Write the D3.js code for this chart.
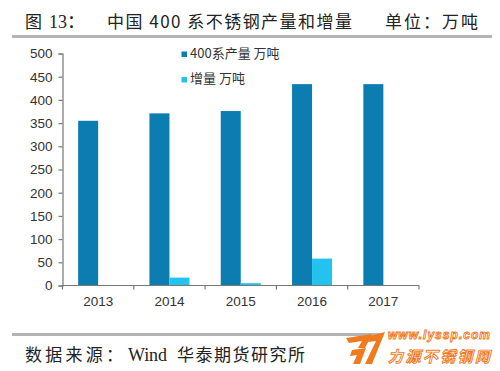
<!DOCTYPE html>
<html>
<head>
<meta charset="utf-8">
<script src="https://cdn.jsdelivr.net/npm/d3@7"></script>
<style>
  body { margin: 0; background: #fff; }
  svg { display: block; }
</style>
</head>
<body>
<svg id="chart"></svg>
<script>
// data
var years = ['2013', '2014', '2015', '2016', '2017'];
var output = [355, 371, 376, 434, 434];   // 400系产量 万吨
var increase = [null, 17, 5, 58, 0];      // 增量 万吨
var yTicks = [0, 50, 100, 150, 200, 250, 300, 350, 400, 450, 500];
var seriesNames = ['400系产量 万吨', '增量 万吨'];
var colors = ['#0c7db1', '#23c2ef'];

var width = 500, height = 371;
var svg = d3.select('#chart').attr('width', width).attr('height', height);

// small helper for the header/footer texts
function label(x0, y0, txt, len, family, size) {
  var t = svg.append('text').attr('x', x0).attr('y', y0)
    .style('font-family', family)
    .style('font-size', size + 'px').attr('fill', '#222')
    .text(txt);
  if (len) t.attr('textLength', len).attr('lengthAdjust', 'spacing');
  return t;
}

// header
label(25, 28, '图', null, '"Noto Sans CJK SC", serif', 17);
label(49, 28, '13：', null, '"Liberation Serif", "Noto Sans CJK SC", serif', 18);
label(107, 28, '中国 400 系不锈钢产量和增量', 245, '"Noto Sans CJK SC", serif', 17);
label(385, 28, '单位：万吨', 93, '"Noto Sans CJK SC", serif', 17);
svg.append('line').attr('x1', 12).attr('x2', 492).attr('y1', 36.5).attr('y2', 36.5)
  .attr('stroke', '#b4b4b4').attr('stroke-width', 3);

// scales
var x = d3.scaleBand().domain(years).range([62.5, 419]).padding(0);
var inner = d3.scaleBand().domain([0, 1])
  .range([x.bandwidth() / 2 - 20, x.bandwidth() / 2 + 20]);
var y = d3.scaleLinear().domain([0, 500]).range([285.5, 53.5]);

// bars
var g = svg.append('g');
[output, increase].forEach(function(vals, s) {
  g.selectAll('rect.s' + s)
    .data(vals.map(function(v, i) { return { year: years[i], v: v }; })
      .filter(function(d) { return d.v !== null && d.v > 0; }))
    .enter().append('rect')
    .attr('class', 's' + s)
    .attr('x', function(d) { return x(d.year) + inner(s); })
    .attr('width', inner.bandwidth())
    .attr('y', function(d) { return y(d.v); })
    .attr('height', function(d) { return y(0) - y(d.v); })
    .attr('fill', colors[s]);
});

// y axis
var yAxis = svg.append('g')
  .attr('transform', 'translate(62.5,0)')
  .call(d3.axisLeft(y).tickValues(yTicks).tickSize(4).tickPadding(6));
yAxis.selectAll('text')
  .style('font-family', '"Liberation Sans", Arial, sans-serif')
  .style('font-size', '13.5px').attr('fill', '#333');
yAxis.select('.domain').attr('stroke', '#777').attr('stroke-width', 1.2);
yAxis.selectAll('.tick line').attr('stroke', '#777').attr('stroke-width', 1.2);

// x axis, ticks on category boundaries
var xAxis = svg.append('g').attr('transform', 'translate(0,' + y(0) + ')');
xAxis.append('line').attr('x1', x.range()[0]).attr('x2', x.range()[1])
  .attr('stroke', '#777').attr('stroke-width', 1.2);
xAxis.selectAll('line.tk')
  .data(years.concat(['end']))
  .enter().append('line').attr('class', 'tk')
  .attr('x1', function(d) { return d === 'end' ? x.range()[1] : x(d); })
  .attr('x2', function(d) { return d === 'end' ? x.range()[1] : x(d); })
  .attr('y1', 0).attr('y2', 4)
  .attr('stroke', '#777').attr('stroke-width', 1.2);
xAxis.selectAll('text')
  .data(years).enter().append('text')
  .attr('x', function(d) { return x(d) + x.bandwidth() / 2; })
  .attr('y', 20)
  .attr('text-anchor', 'middle')
  .style('font-family', '"Liberation Sans", Arial, sans-serif')
  .style('font-size', '13.5px').attr('fill', '#333')
  .text(function(d) { return d; });

// legend
var legend = svg.append('g');
seriesNames.forEach(function(name, i) {
  var ly = 51.5 + i * 25.5;
  legend.append('rect').attr('x', 181.5).attr('y', ly).attr('width', 5.5).attr('height', 5.5)
    .attr('fill', colors[i]);
  legend.append('text').attr('x', 190).attr('y', ly + 6)
    .style('font-family', '"Noto Sans CJK SC", sans-serif')
    .style('font-size', '13px').attr('fill', '#333')
    .text(name);
});

// footer
svg.append('line').attr('x1', 12).attr('x2', 380).attr('y1', 334.5).attr('y2', 334.5)
  .attr('stroke', '#b4b4b4').attr('stroke-width', 3);
label(25, 361, '数据来源：', 98, '"Noto Sans CJK SC", serif', 17);
label(128, 361, 'Wind', 39, '"Liberation Serif", serif', 18);
label(177, 361, '华泰期货研究所', 128, '"Noto Sans CJK SC", serif', 17);

// watermark logo
var logo = svg.append('g');
logo.append('path')
  .attr('d', 'M346,338 L372,334 L365,348 L358,348 L362,341 L349,343 Z M352,350 L366,348 L360,364 L353,364 L357,355 L350,356 Z')
  .attr('fill', '#f07a1e');
logo.append('path')
  .attr('d', 'M370,336 L385,332 L372,364 L365,364 L376,341 L368,342 Z')
  .attr('fill', '#f07a1e');
logo.append('text').attr('x', 388).attr('y', 339)
  .style('font-family', '"Liberation Sans", sans-serif').style('font-style', 'italic')
  .style('font-weight', 'bold').style('font-size', '12px')
  .attr('fill', '#fff').attr('stroke', '#f07a1e').attr('stroke-width', 0.9)
  .attr('textLength', 102)
  .text('www.lyssp.com');
logo.append('text').attr('x', 388).attr('y', 362)
  .style('font-family', '"Noto Sans CJK SC", sans-serif').style('font-style', 'italic')
  .style('font-weight', 'bold').style('font-size', '15px')
  .attr('fill', '#fff').attr('stroke', '#f07a1e').attr('stroke-width', 0.9)
  .attr('textLength', 102)
  .text('力源不锈钢网');
</script>
</body>
</html>
